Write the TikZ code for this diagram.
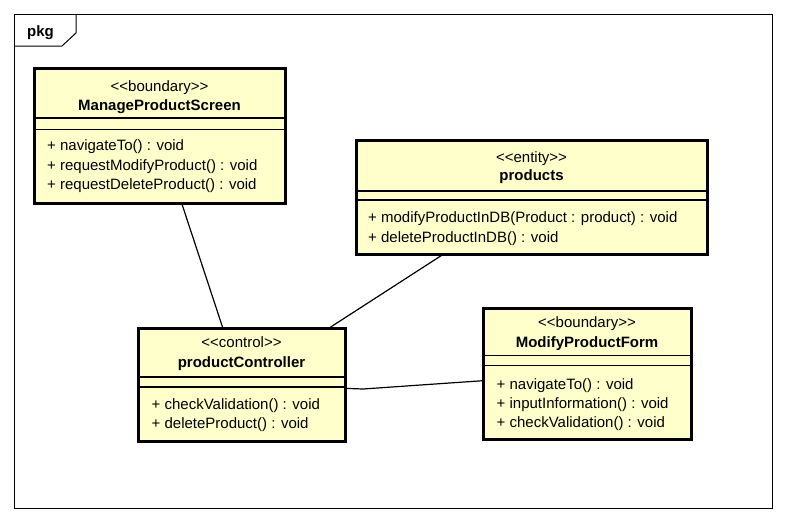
\documentclass[tikz,border=0pt]{standalone}
\usepackage{fontspec}
\usepackage{xcolor}
\usepackage{tikz}
\newfontfamily\umlfont{Liberation Sans}
\definecolor{classyellow}{HTML}{FFFFCC}

\begin{document}
\begin{tikzpicture}[x=1pt, y=-1pt, font=\umlfont\fontsize{15}{19.5}\selectfont,
	classbox/.style={draw, line width=3pt, fill=classyellow, anchor=north west, outer sep=0pt, inner sep=0pt},
	stereo/.style={anchor=base, inner sep=0pt},
	classname/.style={anchor=base, inner sep=0pt, font=\umlfont\fontsize{15}{19.5}\selectfont\bfseries},
	ops/.style={anchor=base west, inner sep=0pt},
	compline/.style={line width=1.3pt},
	assoc/.style={line width=1.2pt}]

	\useasboundingbox (0,0) rectangle (786,522);

	% package frame
	\draw[line width=1pt] (14,14) rectangle (772,508);
	\draw[line width=1pt] (14,46) -- (62,46) -- (76,33) -- (76,14);
	\node[classname, anchor=base west] (pkg) at (27,36) {pkg};

	% ManageProductScreen
	\node[classbox, minimum width=251pt, minimum height=134.5pt] (mps) at (34,68.5) {};
	\node[stereo] (mps-st) at (159.5,91) {<<boundary>>};
	\node[classname] (mps-nm) at (159.5,110.5) {ManageProductScreen};
	\draw[compline] (mps.west |- 0,118) -- (mps.east |- 0,118);
	\draw[compline] (mps.west |- 0,129.5) -- (mps.east |- 0,129.5);
	\node[ops] (mps-op1) at (47,150.5) {+ navigateTo() : void};
	\node[ops] (mps-op2) at (47,170) {+ requestModifyProduct() : void};
	\node[ops] (mps-op3) at (47,189.5) {+ requestDeleteProduct() : void};

	% products
	\node[classbox, minimum width=351pt, minimum height=113.5pt] (prod) at (356,140.5) {};
	\node[stereo] (prod-st) at (531.5,162.5) {<<entity>>};
	\node[classname] (prod-nm) at (531.5,180.5) {products};
	\draw[compline] (prod.west |- 0,191) -- (prod.east |- 0,191);
	\draw[compline] (prod.west |- 0,200) -- (prod.east |- 0,200);
	\node[ops] (prod-op1) at (368,222.5) {+ modifyProductInDB(Product : product) : void};
	\node[ops] (prod-op2) at (368,242) {+ deleteProductInDB() : void};

	% productController
	\node[classbox, minimum width=207pt, minimum height=113.5pt] (ctrl) at (138,328) {};
	\node[stereo] (ctrl-st) at (241.5,347) {<<control>>};
	\node[classname] (ctrl-nm) at (241.5,367.5) {productController};
	\draw[compline] (ctrl.west |- 0,377) -- (ctrl.east |- 0,377);
	\draw[compline] (ctrl.west |- 0,387) -- (ctrl.east |- 0,387);
	\node[ops] (ctrl-op1) at (151.5,409) {+ checkValidation() : void};
	\node[ops] (ctrl-op2) at (151.5,428.5) {+ deleteProduct() : void};

	% ModifyProductForm
	\node[classbox, minimum width=208pt, minimum height=131pt] (mpf) at (483,308) {};
	\node[stereo] (mpf-st) at (587,327.5) {<<boundary>>};
	\node[classname] (mpf-nm) at (587,347.5) {ModifyProductForm};
	\draw[compline] (mpf.west |- 0,355.7) -- (mpf.east |- 0,355.7);
	\draw[compline] (mpf.west |- 0,365.7) -- (mpf.east |- 0,365.7);
	\node[ops] (mpf-op1) at (496.5,389) {+ navigateTo() : void};
	\node[ops] (mpf-op2) at (496.5,408) {+ inputInformation() : void};
	\node[ops] (mpf-op3) at (496.5,427) {+ checkValidation() : void};

	% associations
	\coordinate (bend) at (363,389);
	\draw[assoc] (mps) -- (ctrl);
	\draw[assoc] (prod) -- (ctrl);
	\draw[assoc] (ctrl) -- (bend) -- (mpf);

\end{tikzpicture}
\end{document}
